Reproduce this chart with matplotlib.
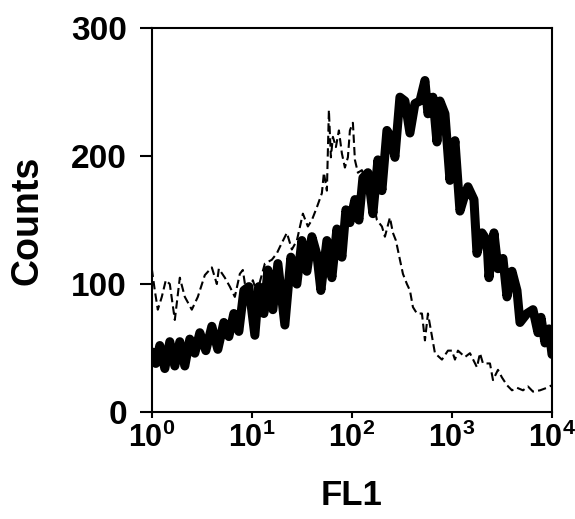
import matplotlib
matplotlib.use("Agg")
import matplotlib.pyplot as plt
import numpy as np

plt.rcParams['font.family'] = ['Liberation Sans', 'DejaVu Sans']
plt.rcParams['font.weight'] = 'bold'
plt.rcParams['mathtext.fontset'] = 'custom'
plt.rcParams['mathtext.rm'] = 'Liberation Sans:bold'
plt.rcParams['mathtext.bf'] = 'Liberation Sans:bold'
plt.rcParams['mathtext.default'] = 'rm'

# stained sample (thick line): log10(FL1) and counts
stained_log = [0.00, 0.04, 0.08, 0.13, 0.18, 0.23, 0.28, 0.33, 0.38, 0.43,
               0.48, 0.54, 0.60, 0.66, 0.72, 0.77, 0.82, 0.87, 0.92, 0.97,
               1.03, 1.07, 1.12, 1.16, 1.21, 1.26, 1.33, 1.39, 1.45, 1.50,
               1.55, 1.60, 1.65, 1.69, 1.75, 1.80, 1.85, 1.90, 1.94, 1.98,
               2.03, 2.07, 2.11, 2.16, 2.21, 2.26, 2.30, 2.35, 2.39, 2.43,
               2.48, 2.53, 2.58, 2.63, 2.68, 2.73, 2.76, 2.81, 2.85, 2.88,
               2.93, 2.98, 3.03, 3.08, 3.13, 3.16, 3.22, 3.25, 3.30, 3.35,
               3.37, 3.42, 3.46, 3.51, 3.55, 3.60, 3.65, 3.68, 3.75, 3.81,
               3.86, 3.89, 3.93, 3.97, 4.00]
stained_counts = [47, 38, 52, 34, 55, 36, 55, 36, 57, 46,
                  62, 48, 67, 49, 70, 59, 77, 63, 95, 98,
                  60, 98, 77, 111, 80, 116, 68, 121, 100, 134,
                  110, 137, 123, 95, 134, 105, 143, 121, 158, 148,
                  166, 150, 183, 187, 155, 197, 173, 220, 215, 199,
                  246, 243, 218, 241, 243, 259, 233, 246, 211, 243,
                  233, 181, 212, 157, 170, 176, 166, 124, 140, 134,
                  105, 140, 112, 120, 90, 110, 95, 70, 77, 80,
                  62, 74, 54, 65, 45]

# control (dashed line)
control_log = [0.00, 0.03, 0.06, 0.10, 0.14, 0.18, 0.23, 0.28, 0.33, 0.40,
               0.46, 0.53, 0.60, 0.65, 0.67, 0.73, 0.78, 0.83, 0.88, 0.91,
               0.95, 1.01, 1.05, 1.13, 1.20, 1.25, 1.28, 1.35, 1.40, 1.45,
               1.51, 1.56, 1.60, 1.65, 1.70, 1.72, 1.75, 1.77, 1.79, 1.81,
               1.84, 1.87, 1.90, 1.93, 1.96, 1.98, 2.01, 2.03, 2.06, 2.10,
               2.15, 2.21, 2.25, 2.30, 2.33, 2.38, 2.41, 2.44, 2.48, 2.51,
               2.55, 2.58, 2.61, 2.65, 2.70, 2.73, 2.76, 2.83, 2.90, 2.96,
               3.00, 3.03, 3.06, 3.13, 3.18, 3.25, 3.28, 3.31, 3.38, 3.41,
               3.46, 3.50, 3.55, 3.60, 3.65, 3.71, 3.76, 3.81, 3.88, 3.95,
               4.00]
control_counts = [112, 95, 80, 90, 103, 100, 72, 105, 90, 80,
                  90, 107, 113, 100, 112, 105, 98, 90, 108, 111,
                  90, 103, 93, 116, 119, 124, 129, 140, 127, 134,
                  155, 145, 150, 160, 171, 187, 173, 236, 199, 215,
                  207, 220, 202, 191, 199, 220, 226, 197, 187, 189,
                  176, 166, 150, 145, 137, 152, 140, 134, 119, 108,
                  100, 95, 82, 77, 77, 56, 77, 46, 41, 48,
                  48, 41, 48, 43, 46, 35, 46, 38, 38, 25,
                  33, 27, 21, 17, 19, 17, 20, 16, 17, 19,
                  21]

fig = plt.figure(figsize=(5.75, 5.19), dpi=100)
ax = fig.add_axes([0.264, 0.206, 0.696, 0.740])

ax.plot(10 ** np.array(control_log), control_counts, color='black',
        lw=1.5, dashes=(4, 2))
ax.plot(10 ** np.array(stained_log), stained_counts, color='black',
        lw=6.5, solid_joinstyle='round', solid_capstyle='round')

ax.set_xscale('log')
ax.set_xlim(1, 1e4)
ax.set_ylim(0, 300)
ax.set_yticks([0, 100, 200, 300])
ax.set_xticks([1, 10, 100, 1000, 10000])
ax.minorticks_off()

for s in ax.spines.values():
    s.set_linewidth(1.5)
ax.tick_params(axis='y', direction='out', length=9, width=1.5, pad=9, labelsize=24)
ax.tick_params(axis='x', direction='out', length=4, width=1.5, pad=4, labelsize=22)

ax.set_ylabel('Counts', fontsize=27, fontweight='bold', labelpad=18)
ax.set_xlabel('FL1', fontsize=25, fontweight='bold', labelpad=18)

plt.savefig('out.png', dpi=100)
plt.close()
